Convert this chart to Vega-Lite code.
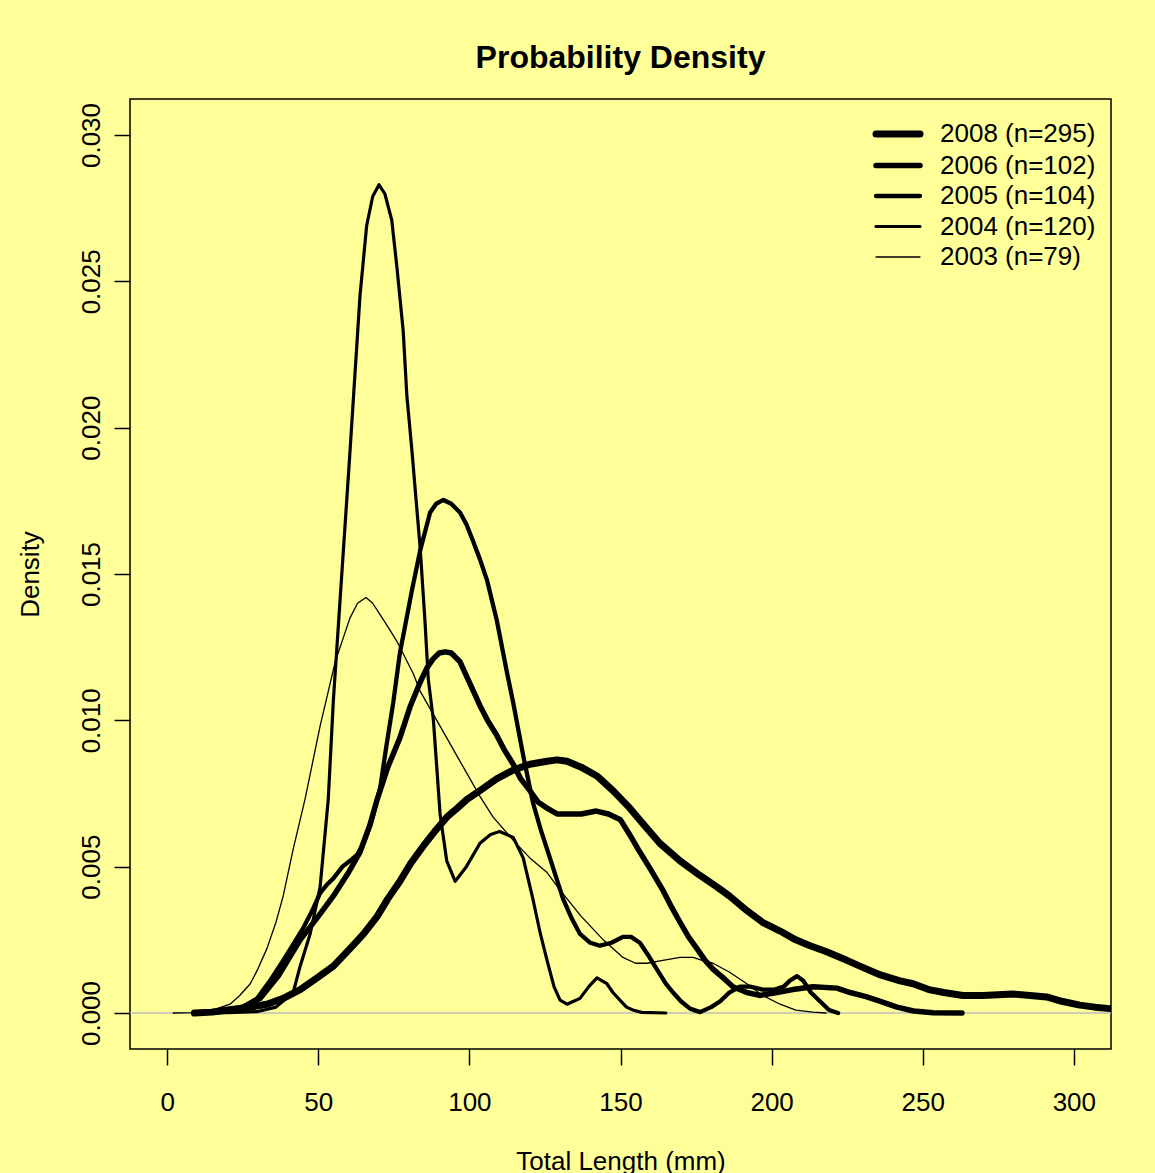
{
  "$schema": "https://vega.github.io/schema/vega-lite/v6.json",
  "autosize": {"type": "none"},
  "padding": {"left": 130, "top": 99, "right": 44, "bottom": 124},
  "width": 981,
  "height": 950,
  "background": "#FFFF99",
  "title": {
    "text": "Probability Density",
    "font": "Liberation Sans",
    "fontSize": 32,
    "fontWeight": "bold",
    "color": "black",
    "anchor": "middle",
    "frame": "group",
    "baseline": "alphabetic",
    "offset": -1
  },
  "config": {
    "view": {"stroke": "black", "strokeWidth": 1.5, "fill": "#FFFF99"},
    "axis": {
      "domain": false,
      "grid": false,
      "ticks": true,
      "tickColor": "black",
      "tickWidth": 1.5,
      "tickSize": 16,
      "labelFont": "Liberation Sans",
      "labelFontSize": 26,
      "labelColor": "black",
      "titleFont": "Liberation Sans",
      "titleFontSize": 26,
      "titleFontWeight": "normal",
      "titleColor": "black"
    }
  },
  "datasets": {
    "zero": [{"z": 0}],
    "dens": [
      {"s": "2004 (n=120)", "x": 10, "d": 0},
      {"s": "2004 (n=120)", "x": 20, "d": 0.00001},
      {"s": "2004 (n=120)", "x": 30, "d": 0.00005},
      {"s": "2004 (n=120)", "x": 36, "d": 0.0002},
      {"s": "2004 (n=120)", "x": 41.7, "d": 0.0007},
      {"s": "2004 (n=120)", "x": 44, "d": 0.0016},
      {"s": "2004 (n=120)", "x": 47.3, "d": 0.0027},
      {"s": "2004 (n=120)", "x": 50.6, "d": 0.0043},
      {"s": "2004 (n=120)", "x": 53.3, "d": 0.0073},
      {"s": "2004 (n=120)", "x": 55, "d": 0.0107},
      {"s": "2004 (n=120)", "x": 57.2, "d": 0.0141},
      {"s": "2004 (n=120)", "x": 60.5, "d": 0.0192},
      {"s": "2004 (n=120)", "x": 63.8, "d": 0.0245},
      {"s": "2004 (n=120)", "x": 66, "d": 0.0269},
      {"s": "2004 (n=120)", "x": 68, "d": 0.0279},
      {"s": "2004 (n=120)", "x": 70.1, "d": 0.0283},
      {"s": "2004 (n=120)", "x": 72, "d": 0.028},
      {"s": "2004 (n=120)", "x": 74.3, "d": 0.0271},
      {"s": "2004 (n=120)", "x": 76, "d": 0.0255},
      {"s": "2004 (n=120)", "x": 78.1, "d": 0.0233},
      {"s": "2004 (n=120)", "x": 79.3, "d": 0.0211},
      {"s": "2004 (n=120)", "x": 81, "d": 0.0192},
      {"s": "2004 (n=120)", "x": 83.7, "d": 0.0159},
      {"s": "2004 (n=120)", "x": 85.3, "d": 0.0134},
      {"s": "2004 (n=120)", "x": 86.4, "d": 0.0114},
      {"s": "2004 (n=120)", "x": 88.1, "d": 0.01},
      {"s": "2004 (n=120)", "x": 90.3, "d": 0.0068},
      {"s": "2004 (n=120)", "x": 92.5, "d": 0.0052},
      {"s": "2004 (n=120)", "x": 95.3, "d": 0.0045},
      {"s": "2004 (n=120)", "x": 99, "d": 0.005},
      {"s": "2004 (n=120)", "x": 103.5, "d": 0.0058},
      {"s": "2004 (n=120)", "x": 107, "d": 0.0061},
      {"s": "2004 (n=120)", "x": 110, "d": 0.0062},
      {"s": "2004 (n=120)", "x": 114.5, "d": 0.006},
      {"s": "2004 (n=120)", "x": 117.8, "d": 0.0053},
      {"s": "2004 (n=120)", "x": 121, "d": 0.0039},
      {"s": "2004 (n=120)", "x": 123.5, "d": 0.0027},
      {"s": "2004 (n=120)", "x": 125.7, "d": 0.0018},
      {"s": "2004 (n=120)", "x": 128, "d": 0.0009},
      {"s": "2004 (n=120)", "x": 130, "d": 0.00044},
      {"s": "2004 (n=120)", "x": 132.3, "d": 0.0003},
      {"s": "2004 (n=120)", "x": 134.5, "d": 0.0004},
      {"s": "2004 (n=120)", "x": 136.6, "d": 0.0005},
      {"s": "2004 (n=120)", "x": 139.5, "d": 0.0009},
      {"s": "2004 (n=120)", "x": 142.2, "d": 0.0012},
      {"s": "2004 (n=120)", "x": 145.5, "d": 0.001},
      {"s": "2004 (n=120)", "x": 147.5, "d": 0.0007},
      {"s": "2004 (n=120)", "x": 149.8, "d": 0.00044},
      {"s": "2004 (n=120)", "x": 152, "d": 0.0002},
      {"s": "2004 (n=120)", "x": 154.1, "d": 0.0001},
      {"s": "2004 (n=120)", "x": 157, "d": 0.00002},
      {"s": "2004 (n=120)", "x": 165, "d": 0},

      {"s": "2005 (n=104)", "x": 10, "d": 0},
      {"s": "2005 (n=104)", "x": 20, "d": 0.00005},
      {"s": "2005 (n=104)", "x": 25, "d": 0.0002},
      {"s": "2005 (n=104)", "x": 29.8, "d": 0.0005},
      {"s": "2005 (n=104)", "x": 34, "d": 0.0011},
      {"s": "2005 (n=104)", "x": 38.4, "d": 0.0018},
      {"s": "2005 (n=104)", "x": 42, "d": 0.0024},
      {"s": "2005 (n=104)", "x": 45, "d": 0.0029},
      {"s": "2005 (n=104)", "x": 48, "d": 0.0035},
      {"s": "2005 (n=104)", "x": 50.6, "d": 0.0041},
      {"s": "2005 (n=104)", "x": 53, "d": 0.0044},
      {"s": "2005 (n=104)", "x": 55, "d": 0.0046},
      {"s": "2005 (n=104)", "x": 58, "d": 0.005},
      {"s": "2005 (n=104)", "x": 60.5, "d": 0.0052},
      {"s": "2005 (n=104)", "x": 62.8, "d": 0.0054},
      {"s": "2005 (n=104)", "x": 65, "d": 0.0058},
      {"s": "2005 (n=104)", "x": 67.5, "d": 0.0065},
      {"s": "2005 (n=104)", "x": 70.5, "d": 0.0077},
      {"s": "2005 (n=104)", "x": 72.5, "d": 0.0091},
      {"s": "2005 (n=104)", "x": 74.8, "d": 0.0106},
      {"s": "2005 (n=104)", "x": 77, "d": 0.0123},
      {"s": "2005 (n=104)", "x": 78.5, "d": 0.0131},
      {"s": "2005 (n=104)", "x": 81, "d": 0.01445},
      {"s": "2005 (n=104)", "x": 83.7, "d": 0.0158},
      {"s": "2005 (n=104)", "x": 87, "d": 0.0171},
      {"s": "2005 (n=104)", "x": 89, "d": 0.0174},
      {"s": "2005 (n=104)", "x": 91.4, "d": 0.01753},
      {"s": "2005 (n=104)", "x": 94, "d": 0.0174},
      {"s": "2005 (n=104)", "x": 96.9, "d": 0.0171},
      {"s": "2005 (n=104)", "x": 99, "d": 0.0167},
      {"s": "2005 (n=104)", "x": 101.3, "d": 0.0161},
      {"s": "2005 (n=104)", "x": 103.5, "d": 0.0155},
      {"s": "2005 (n=104)", "x": 105.8, "d": 0.0148},
      {"s": "2005 (n=104)", "x": 109.1, "d": 0.0134},
      {"s": "2005 (n=104)", "x": 112.5, "d": 0.0116},
      {"s": "2005 (n=104)", "x": 114.5, "d": 0.0106},
      {"s": "2005 (n=104)", "x": 117.8, "d": 0.0088},
      {"s": "2005 (n=104)", "x": 121, "d": 0.0072},
      {"s": "2005 (n=104)", "x": 123.5, "d": 0.0063},
      {"s": "2005 (n=104)", "x": 125.7, "d": 0.0056},
      {"s": "2005 (n=104)", "x": 128.5, "d": 0.0047},
      {"s": "2005 (n=104)", "x": 131, "d": 0.0039},
      {"s": "2005 (n=104)", "x": 134, "d": 0.0032},
      {"s": "2005 (n=104)", "x": 136.6, "d": 0.0027},
      {"s": "2005 (n=104)", "x": 140, "d": 0.0024},
      {"s": "2005 (n=104)", "x": 143.2, "d": 0.0023},
      {"s": "2005 (n=104)", "x": 147, "d": 0.0024},
      {"s": "2005 (n=104)", "x": 150.8, "d": 0.0026},
      {"s": "2005 (n=104)", "x": 153.5, "d": 0.0026},
      {"s": "2005 (n=104)", "x": 156.4, "d": 0.0024},
      {"s": "2005 (n=104)", "x": 159, "d": 0.002},
      {"s": "2005 (n=104)", "x": 162, "d": 0.0015},
      {"s": "2005 (n=104)", "x": 165, "d": 0.001},
      {"s": "2005 (n=104)", "x": 167.4, "d": 0.0007},
      {"s": "2005 (n=104)", "x": 170, "d": 0.0004},
      {"s": "2005 (n=104)", "x": 173, "d": 0.00015},
      {"s": "2005 (n=104)", "x": 176.3, "d": 0.00003},
      {"s": "2005 (n=104)", "x": 180, "d": 0.0002},
      {"s": "2005 (n=104)", "x": 183, "d": 0.0004},
      {"s": "2005 (n=104)", "x": 186, "d": 0.0007},
      {"s": "2005 (n=104)", "x": 189.5, "d": 0.0009},
      {"s": "2005 (n=104)", "x": 193, "d": 0.0009},
      {"s": "2005 (n=104)", "x": 197, "d": 0.0008},
      {"s": "2005 (n=104)", "x": 201, "d": 0.0008},
      {"s": "2005 (n=104)", "x": 204, "d": 0.0009},
      {"s": "2005 (n=104)", "x": 206, "d": 0.0011},
      {"s": "2005 (n=104)", "x": 208.4, "d": 0.00126},
      {"s": "2005 (n=104)", "x": 210.5, "d": 0.0011},
      {"s": "2005 (n=104)", "x": 213, "d": 0.0007},
      {"s": "2005 (n=104)", "x": 216, "d": 0.0004},
      {"s": "2005 (n=104)", "x": 219, "d": 0.0001},
      {"s": "2005 (n=104)", "x": 222, "d": 0},

      {"s": "2006 (n=102)", "x": 10, "d": 0},
      {"s": "2006 (n=102)", "x": 20, "d": 0.0001},
      {"s": "2006 (n=102)", "x": 25, "d": 0.0002},
      {"s": "2006 (n=102)", "x": 30.8, "d": 0.0005},
      {"s": "2006 (n=102)", "x": 37, "d": 0.0013},
      {"s": "2006 (n=102)", "x": 44, "d": 0.0025},
      {"s": "2006 (n=102)", "x": 50, "d": 0.0033},
      {"s": "2006 (n=102)", "x": 55, "d": 0.004},
      {"s": "2006 (n=102)", "x": 60, "d": 0.0048},
      {"s": "2006 (n=102)", "x": 63.8, "d": 0.0055},
      {"s": "2006 (n=102)", "x": 67, "d": 0.0064},
      {"s": "2006 (n=102)", "x": 69.5, "d": 0.0073},
      {"s": "2006 (n=102)", "x": 73, "d": 0.0084},
      {"s": "2006 (n=102)", "x": 77, "d": 0.0094},
      {"s": "2006 (n=102)", "x": 80.5, "d": 0.0105},
      {"s": "2006 (n=102)", "x": 83.7, "d": 0.0113},
      {"s": "2006 (n=102)", "x": 86, "d": 0.0118},
      {"s": "2006 (n=102)", "x": 88, "d": 0.0121},
      {"s": "2006 (n=102)", "x": 90, "d": 0.0123},
      {"s": "2006 (n=102)", "x": 92, "d": 0.01234},
      {"s": "2006 (n=102)", "x": 94, "d": 0.0123},
      {"s": "2006 (n=102)", "x": 96.9, "d": 0.012},
      {"s": "2006 (n=102)", "x": 100, "d": 0.0113},
      {"s": "2006 (n=102)", "x": 103.5, "d": 0.0105},
      {"s": "2006 (n=102)", "x": 106, "d": 0.01},
      {"s": "2006 (n=102)", "x": 109, "d": 0.0095},
      {"s": "2006 (n=102)", "x": 111.5, "d": 0.009},
      {"s": "2006 (n=102)", "x": 114.5, "d": 0.0085},
      {"s": "2006 (n=102)", "x": 117, "d": 0.008},
      {"s": "2006 (n=102)", "x": 120, "d": 0.0076},
      {"s": "2006 (n=102)", "x": 122.8, "d": 0.0072},
      {"s": "2006 (n=102)", "x": 125.7, "d": 0.007},
      {"s": "2006 (n=102)", "x": 129, "d": 0.0068},
      {"s": "2006 (n=102)", "x": 132, "d": 0.0068},
      {"s": "2006 (n=102)", "x": 137, "d": 0.0068},
      {"s": "2006 (n=102)", "x": 142, "d": 0.0069},
      {"s": "2006 (n=102)", "x": 146, "d": 0.0068},
      {"s": "2006 (n=102)", "x": 150, "d": 0.0066},
      {"s": "2006 (n=102)", "x": 153, "d": 0.0061},
      {"s": "2006 (n=102)", "x": 156.4, "d": 0.0055},
      {"s": "2006 (n=102)", "x": 160, "d": 0.0049},
      {"s": "2006 (n=102)", "x": 164, "d": 0.0042},
      {"s": "2006 (n=102)", "x": 167, "d": 0.0036},
      {"s": "2006 (n=102)", "x": 169.7, "d": 0.0031},
      {"s": "2006 (n=102)", "x": 172.5, "d": 0.0026},
      {"s": "2006 (n=102)", "x": 175.3, "d": 0.0022},
      {"s": "2006 (n=102)", "x": 178, "d": 0.0018},
      {"s": "2006 (n=102)", "x": 180.6, "d": 0.0015},
      {"s": "2006 (n=102)", "x": 184, "d": 0.0012},
      {"s": "2006 (n=102)", "x": 187.2, "d": 0.0009},
      {"s": "2006 (n=102)", "x": 191.8, "d": 0.0007},
      {"s": "2006 (n=102)", "x": 196, "d": 0.0006},
      {"s": "2006 (n=102)", "x": 201.8, "d": 0.0007},
      {"s": "2006 (n=102)", "x": 207, "d": 0.0008},
      {"s": "2006 (n=102)", "x": 213.7, "d": 0.0009},
      {"s": "2006 (n=102)", "x": 221.6, "d": 0.00085},
      {"s": "2006 (n=102)", "x": 226, "d": 0.0007},
      {"s": "2006 (n=102)", "x": 231.5, "d": 0.00055},
      {"s": "2006 (n=102)", "x": 236, "d": 0.0004},
      {"s": "2006 (n=102)", "x": 241.5, "d": 0.0002},
      {"s": "2006 (n=102)", "x": 247, "d": 0.00007},
      {"s": "2006 (n=102)", "x": 253.4, "d": 0.00001},
      {"s": "2006 (n=102)", "x": 263, "d": 0},

      {"s": "2008 (n=295)", "x": 9, "d": 0},
      {"s": "2008 (n=295)", "x": 15, "d": 0.00003},
      {"s": "2008 (n=295)", "x": 20, "d": 0.0001},
      {"s": "2008 (n=295)", "x": 27.5, "d": 0.0002},
      {"s": "2008 (n=295)", "x": 33, "d": 0.0003},
      {"s": "2008 (n=295)", "x": 38.4, "d": 0.0005},
      {"s": "2008 (n=295)", "x": 44, "d": 0.0008},
      {"s": "2008 (n=295)", "x": 49.6, "d": 0.0012},
      {"s": "2008 (n=295)", "x": 55, "d": 0.0016},
      {"s": "2008 (n=295)", "x": 60.5, "d": 0.0022},
      {"s": "2008 (n=295)", "x": 65, "d": 0.0027},
      {"s": "2008 (n=295)", "x": 69.5, "d": 0.0033},
      {"s": "2008 (n=295)", "x": 73, "d": 0.0039},
      {"s": "2008 (n=295)", "x": 77, "d": 0.0045},
      {"s": "2008 (n=295)", "x": 80.5, "d": 0.0051},
      {"s": "2008 (n=295)", "x": 84.7, "d": 0.0057},
      {"s": "2008 (n=295)", "x": 88.5, "d": 0.0062},
      {"s": "2008 (n=295)", "x": 92.6, "d": 0.0067},
      {"s": "2008 (n=295)", "x": 96, "d": 0.007},
      {"s": "2008 (n=295)", "x": 99.2, "d": 0.0073},
      {"s": "2008 (n=295)", "x": 103.5, "d": 0.0076},
      {"s": "2008 (n=295)", "x": 109, "d": 0.008},
      {"s": "2008 (n=295)", "x": 114.5, "d": 0.0083},
      {"s": "2008 (n=295)", "x": 120, "d": 0.0085},
      {"s": "2008 (n=295)", "x": 125.7, "d": 0.0086},
      {"s": "2008 (n=295)", "x": 129, "d": 0.00865},
      {"s": "2008 (n=295)", "x": 132.3, "d": 0.0086},
      {"s": "2008 (n=295)", "x": 137, "d": 0.0084},
      {"s": "2008 (n=295)", "x": 142.2, "d": 0.0081},
      {"s": "2008 (n=295)", "x": 147.5, "d": 0.0076},
      {"s": "2008 (n=295)", "x": 153.1, "d": 0.007},
      {"s": "2008 (n=295)", "x": 158, "d": 0.0064},
      {"s": "2008 (n=295)", "x": 163, "d": 0.0058},
      {"s": "2008 (n=295)", "x": 169.7, "d": 0.0052},
      {"s": "2008 (n=295)", "x": 176.3, "d": 0.0047},
      {"s": "2008 (n=295)", "x": 182, "d": 0.0043},
      {"s": "2008 (n=295)", "x": 186, "d": 0.004},
      {"s": "2008 (n=295)", "x": 191.8, "d": 0.0035},
      {"s": "2008 (n=295)", "x": 197, "d": 0.0031},
      {"s": "2008 (n=295)", "x": 202.8, "d": 0.0028},
      {"s": "2008 (n=295)", "x": 208, "d": 0.0025},
      {"s": "2008 (n=295)", "x": 212.7, "d": 0.0023},
      {"s": "2008 (n=295)", "x": 218, "d": 0.0021},
      {"s": "2008 (n=295)", "x": 224.9, "d": 0.0018},
      {"s": "2008 (n=295)", "x": 229.2, "d": 0.0016},
      {"s": "2008 (n=295)", "x": 236, "d": 0.0013},
      {"s": "2008 (n=295)", "x": 242.5, "d": 0.0011},
      {"s": "2008 (n=295)", "x": 246.8, "d": 0.001},
      {"s": "2008 (n=295)", "x": 252, "d": 0.0008},
      {"s": "2008 (n=295)", "x": 257, "d": 0.0007},
      {"s": "2008 (n=295)", "x": 263.3, "d": 0.0006},
      {"s": "2008 (n=295)", "x": 270, "d": 0.0006},
      {"s": "2008 (n=295)", "x": 279.8, "d": 0.00065},
      {"s": "2008 (n=295)", "x": 285.5, "d": 0.0006},
      {"s": "2008 (n=295)", "x": 291, "d": 0.00055},
      {"s": "2008 (n=295)", "x": 296, "d": 0.0004},
      {"s": "2008 (n=295)", "x": 302, "d": 0.00027},
      {"s": "2008 (n=295)", "x": 307, "d": 0.0002},
      {"s": "2008 (n=295)", "x": 312, "d": 0.00015},
      {"s": "2008 (n=295)", "x": 318, "d": 0.0001},

      {"s": "2003 (n=79)", "x": 2, "d": 0},
      {"s": "2003 (n=79)", "x": 8, "d": 0.00001},
      {"s": "2003 (n=79)", "x": 11, "d": 0.00003},
      {"s": "2003 (n=79)", "x": 15, "d": 0.0001},
      {"s": "2003 (n=79)", "x": 20.8, "d": 0.0003},
      {"s": "2003 (n=79)", "x": 24, "d": 0.0006},
      {"s": "2003 (n=79)", "x": 27.5, "d": 0.001},
      {"s": "2003 (n=79)", "x": 30, "d": 0.0015},
      {"s": "2003 (n=79)", "x": 33, "d": 0.0022},
      {"s": "2003 (n=79)", "x": 36, "d": 0.0031},
      {"s": "2003 (n=79)", "x": 38.4, "d": 0.004},
      {"s": "2003 (n=79)", "x": 41.7, "d": 0.0056},
      {"s": "2003 (n=79)", "x": 45.6, "d": 0.0073},
      {"s": "2003 (n=79)", "x": 50.6, "d": 0.0098},
      {"s": "2003 (n=79)", "x": 55.6, "d": 0.012},
      {"s": "2003 (n=79)", "x": 60.5, "d": 0.0135},
      {"s": "2003 (n=79)", "x": 63, "d": 0.014},
      {"s": "2003 (n=79)", "x": 65.8, "d": 0.0142},
      {"s": "2003 (n=79)", "x": 68, "d": 0.014},
      {"s": "2003 (n=79)", "x": 70.5, "d": 0.0136},
      {"s": "2003 (n=79)", "x": 73, "d": 0.0132},
      {"s": "2003 (n=79)", "x": 76, "d": 0.0127},
      {"s": "2003 (n=79)", "x": 81.4, "d": 0.0116},
      {"s": "2003 (n=79)", "x": 83.7, "d": 0.011},
      {"s": "2003 (n=79)", "x": 90.3, "d": 0.0098},
      {"s": "2003 (n=79)", "x": 96.9, "d": 0.0086},
      {"s": "2003 (n=79)", "x": 103.5, "d": 0.0074},
      {"s": "2003 (n=79)", "x": 107.8, "d": 0.0067},
      {"s": "2003 (n=79)", "x": 114.5, "d": 0.0059},
      {"s": "2003 (n=79)", "x": 120, "d": 0.0053},
      {"s": "2003 (n=79)", "x": 125.7, "d": 0.0048},
      {"s": "2003 (n=79)", "x": 130, "d": 0.0042},
      {"s": "2003 (n=79)", "x": 137, "d": 0.0033},
      {"s": "2003 (n=79)", "x": 144.3, "d": 0.0025},
      {"s": "2003 (n=79)", "x": 150.8, "d": 0.0019},
      {"s": "2003 (n=79)", "x": 155, "d": 0.0017},
      {"s": "2003 (n=79)", "x": 158.8, "d": 0.0017},
      {"s": "2003 (n=79)", "x": 164, "d": 0.0018},
      {"s": "2003 (n=79)", "x": 169.7, "d": 0.0019},
      {"s": "2003 (n=79)", "x": 174, "d": 0.0019},
      {"s": "2003 (n=79)", "x": 177, "d": 0.0018},
      {"s": "2003 (n=79)", "x": 180.6, "d": 0.0017},
      {"s": "2003 (n=79)", "x": 186, "d": 0.0014},
      {"s": "2003 (n=79)", "x": 191.8, "d": 0.001},
      {"s": "2003 (n=79)", "x": 197, "d": 0.0006},
      {"s": "2003 (n=79)", "x": 202.8, "d": 0.0003},
      {"s": "2003 (n=79)", "x": 208, "d": 0.0001},
      {"s": "2003 (n=79)", "x": 213.7, "d": 0.00003},
      {"s": "2003 (n=79)", "x": 218, "d": 0}
    ]
  },
  "layer": [
    {
      "data": {"name": "zero"},
      "mark": {"type": "rule", "color": "#BEBEBE", "strokeWidth": 1.5},
      "encoding": {
        "y": {"field": "z", "type": "quantitative", "scale": {"domain": [-0.00123, 0.03123], "nice": false, "zero": false}}
      }
    },
    {
      "data": {"name": "dens"},
      "mark": {"type": "line", "color": "black", "strokeCap": "round", "strokeJoin": "round", "clip": true},
      "encoding": {
        "x": {
          "field": "x", "type": "quantitative",
          "scale": {"domain": [-12.3, 312.3], "nice": false, "zero": false},
          "axis": {
            "values": [0, 50, 100, 150, 200, 250, 300],
            "labelPadding": 24,
            "labelBaseline": "top",
            "title": "Total Length (mm)",
            "titleX": 490.5,
            "titleY": 120,
            "titleBaseline": "alphabetic",
            "titleAlign": "center"
          }
        },
        "y": {
          "field": "d", "type": "quantitative",
          "scale": {"domain": [-0.00123, 0.03123], "nice": false, "zero": false},
          "axis": {
            "values": [0, 0.005, 0.01, 0.015, 0.02, 0.025, 0.03],
            "format": ".3f",
            "labelAngle": -90,
            "labelAlign": "center",
            "labelBaseline": "alphabetic",
            "labelPadding": 15,
            "title": "Density",
            "titleAngle": -90,
            "titleX": -92,
            "titleY": 475,
            "titleAlign": "center",
            "titleBaseline": "alphabetic"
          }
        },
        "strokeWidth": {
          "field": "s", "type": "nominal",
          "scale": {
            "type": "ordinal",
            "domain": ["2008 (n=295)", "2006 (n=102)", "2005 (n=104)", "2004 (n=120)", "2003 (n=79)"],
            "range": [7, 5.5, 4.3, 3.2, 1.3]
          },
          "legend": {
            "title": null,
            "orient": "none",
            "legendX": 755,
            "legendY": 22,
            "padding": 0,
            "symbolType": "M-2.75,0H2.75",
            "symbolSize": 256,
            "symbolStrokeColor": "black",
            "symbolFillColor": "transparent",
            "labelOffset": 29,
            "labelFont": "Liberation Sans",
            "labelFontSize": 26,
            "labelColor": "black",
            "labelLimit": 400,
            "rowPadding": 4.5,
            "encode": {"symbols": {"update": {"strokeCap": {"value": "round"}}}}
          }
        }
      }
    }
  ]
}
